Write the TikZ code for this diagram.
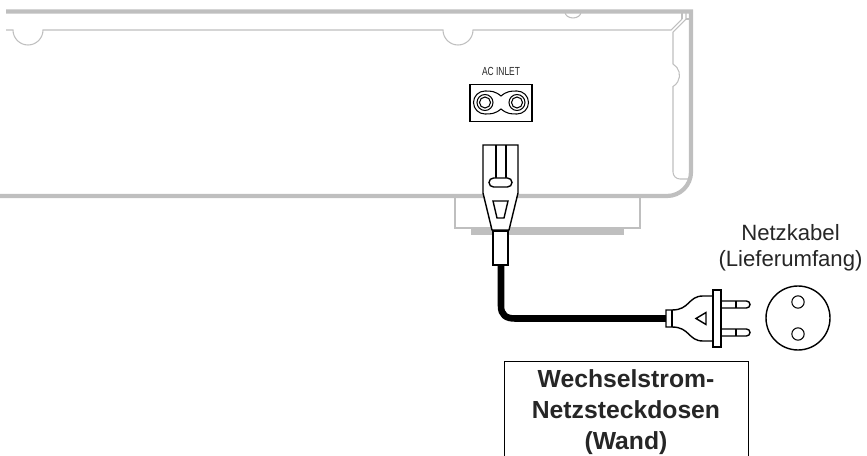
\documentclass[tikz,border=0pt]{standalone}
\usepackage{fontspec}
\setmainfont{Liberation Sans}
\usetikzlibrary{positioning}
\definecolor{housing}{gray}{0.75}
\definecolor{labeltext}{gray}{0.15}
\begin{document}
\begin{tikzpicture}[%
		x=0.03cm, y=-0.03cm,
		thickedge/.style={draw=housing, line width=3.6pt},
		midedge/.style={draw=housing, line width=2.4pt},
		thinedge/.style={draw=housing, line width=0.9pt},
		part/.style={draw=black, line width=1.2pt, fill=white},
		partline/.style={draw=black, line width=1.2pt},
		cable/.style={draw=black, line width=5.6pt},
		caption/.style={font=\fontsize{18.9}{22}\selectfont, align=center, text=labeltext},
		heading/.style={font=\fontsize{21.1}{26.5}\selectfont\bfseries, align=center, text=labeltext}]
	\useasboundingbox (0,0) rectangle (867,456);
	% housing
	\path[thickedge] (6,11.5) -- (691,11.5) -- (691,172) arc[start angle=0, end angle=90, radius=24] -- (0,196);
	\path[thinedge] (6,30) -- (13,30) arc[start angle=180, end angle=0, radius=15] -- (443,30)
		arc[start angle=180, end angle=0, radius=15] -- (671,30) -- (682,19);
	\path[thinedge] (673,32) -- (686,19) -- (686,12);
	\path[thinedge] (682,19) -- (682,12);
	\path[thinedge] (686,19) -- (691,19);
	\path[thinedge] (673,32) -- (673,64) arc[start angle=-60, end angle=60, radius=13] -- (673,89) -- (673,172)
		arc[start angle=180, end angle=90, radius=7] -- (691,179);
	\path[thinedge] (565,12) arc[start angle=180, end angle=0, radius=8, y radius=6];
	% foot
	\path[midedge] (455,196) -- (455,228) -- (640,228) -- (640,196);
	\path[thickedge, line width=6.2pt] (471,231) -- (624,231);
	% inlet
	\node[xscale=0.72, font=\fontsize{10}{12}\selectfont, text=labeltext] (inletlabel) at (501,71) {AC INLET};
	\node[draw=black, line width=1.4pt, minimum width=1.87cm, minimum height=1.11cm, inner sep=0pt] (inlet) at (501,103) {};
	\path[partline, line width=0.9pt] (485,91) .. controls (491,91) and (495,91) .. (501,96) .. controls (507,91) and (511,91) .. (517,91)
		arc[start angle=-90, end angle=90, radius=11.5]
		.. controls (511,114) and (507,114) .. (501,109) .. controls (495,114) and (491,114) .. (485,114)
		arc[start angle=90, end angle=270, radius=11.5] -- cycle;
	\foreach \cx in {485,517} {
		\draw[line width=0.9pt] (\cx,102.5) circle[radius=8];
		\draw[line width=0.9pt] (\cx,102.5) circle[radius=5.5];
	}
	% mains lead
	\coordinate (leadtop) at (501,265);
	\coordinate (leadend) at (666,318.5);
	\path[cable] (leadtop) -- (501,306) .. controls (501,315) and (506,318.5) .. (515,318.5) -- (leadend);
	% connector
	\path[part] (483,145) -- (518,145) -- (518,193) -- (509,230) -- (492,230) -- (483,193) -- cycle;
	\path[partline] (496,145) -- (496,178) (506,145) -- (506,178);
	\path[part] (493.5,178) -- (507.5,178) arc[start angle=-90, end angle=90, radius=4.5] -- (493.5,187) arc[start angle=90, end angle=270, radius=4.5] -- cycle;
	\path[part] (493,201) -- (508,201) -- (504,218) -- (497,218) -- cycle;
	\path[part] (493,231) rectangle (508,265);
	% plug
	\path[part] (666,310) -- (672,310) .. controls (690,310) and (688,296) .. (703,296) -- (713,296)
		-- (713,341) -- (703,341) .. controls (688,341) and (690,327) .. (672,327) -- (666,327) -- cycle;
	\path[partline] (672,310) -- (672,327);
	\path[part] (696,318.5) -- (706,312.5) -- (706,324.5) -- cycle;
	\foreach \py in {304.5,332.5} {
		\path[part] (721,\py-3.5) -- (746.5,\py-3.5) arc[start angle=-90, end angle=90, radius=3.5] -- (721,\py+3.5) -- cycle;
		\path[partline] (736,\py-3.5) -- (736,\py+3.5);
	}
	\path[part] (713,290) rectangle (721,347);
	% wall socket
	\node[draw=black, line width=1.2pt, circle, minimum size=1.92cm, inner sep=0pt] (socket) at (798,318) {};
	\foreach \hy [count=\hi] in {302,334} {
		\node[draw=black, line width=0.9pt, circle, minimum size=0.37cm, inner sep=0pt] (hole\hi) at (798,\hy) {};
	}
	\node[caption] (leadlabel) at (790.5,248) {Netzkabel\\(Lieferumfang)};
	% wall outlet caption
	\node[heading] (walllabel) at (626,412) {Wechselstrom-\\Netzsteckdosen\\(Wand)};
	\path[draw=black, line width=0.8pt] (504,456) -- (504,361) -- (748,361) -- (748,456);
\end{tikzpicture}
\end{document}
